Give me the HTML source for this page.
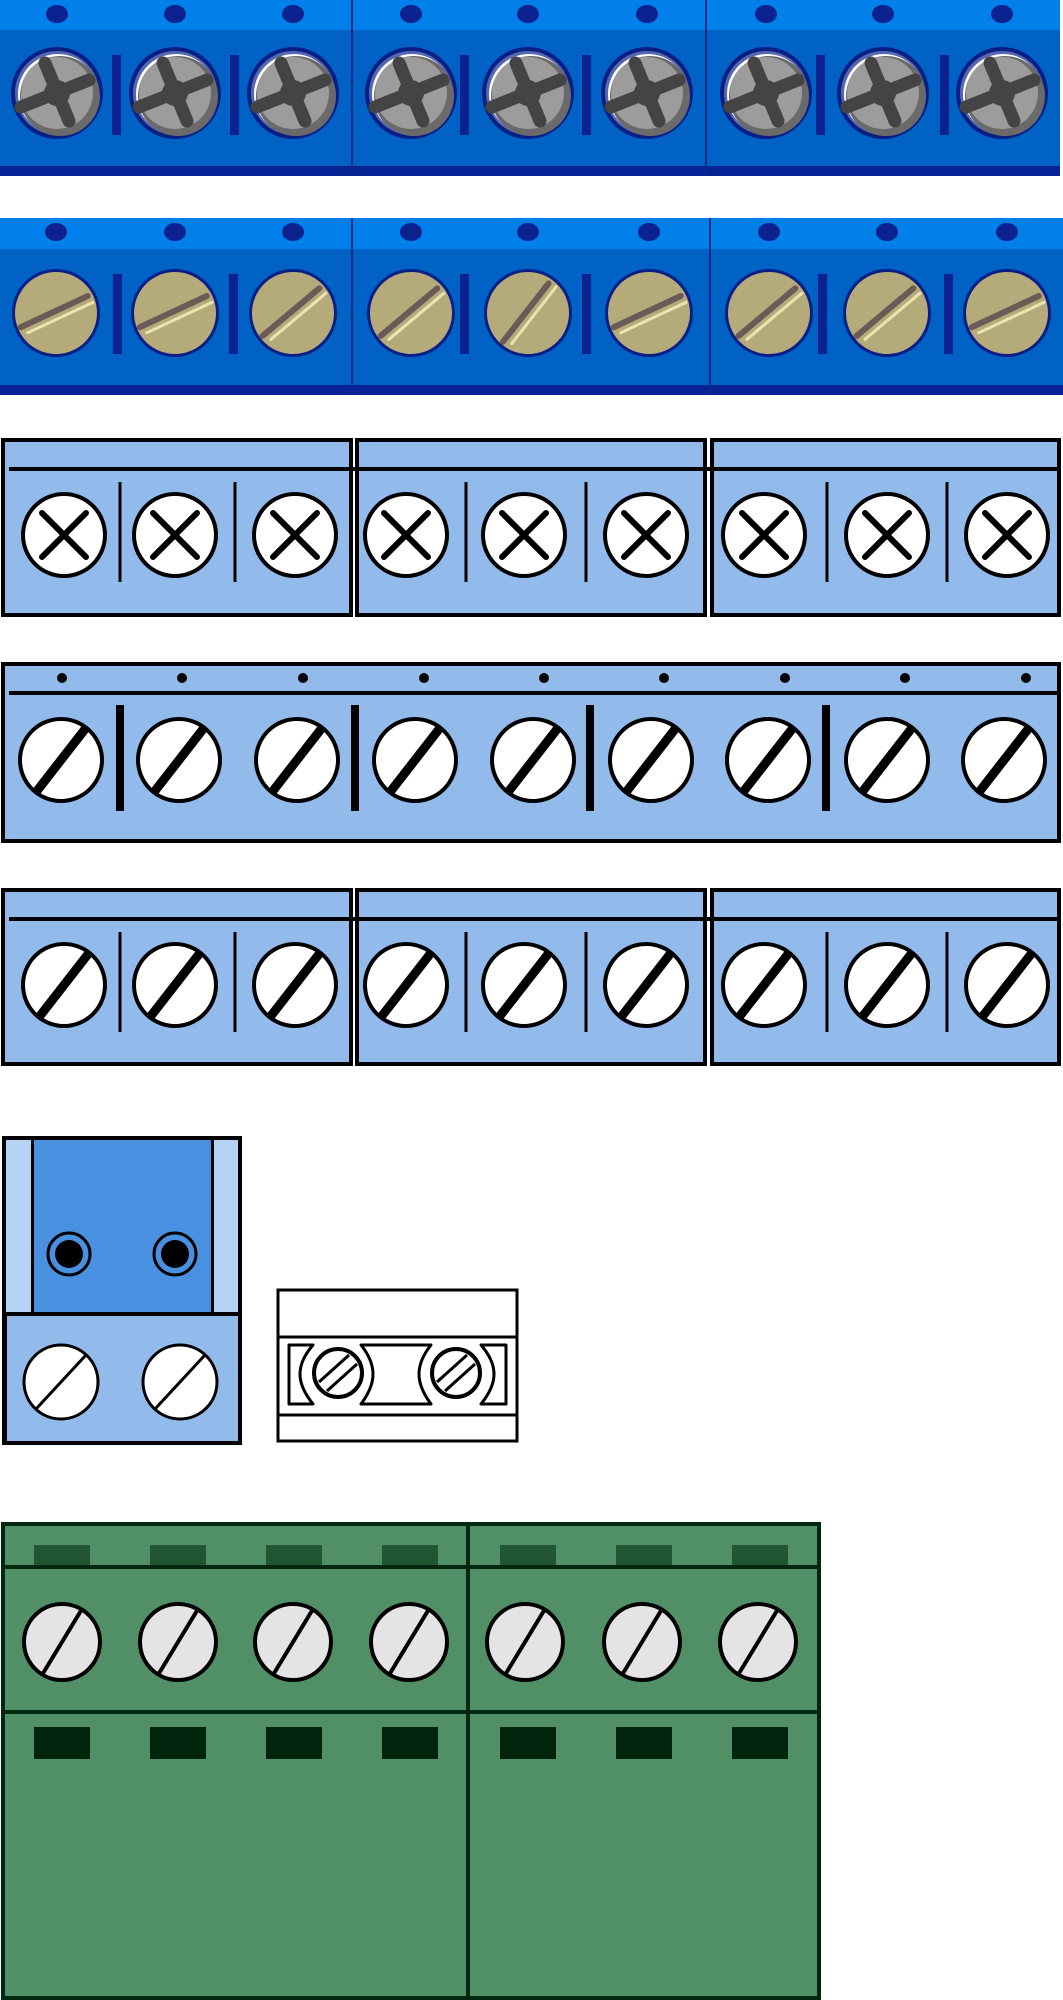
<!DOCTYPE html>
<html><head><meta charset="utf-8"><style>html,body{margin:0;padding:0;background:#fff}svg{display:block}</style></head>
<body>
<svg width="1063" height="2000" viewBox="0 0 1063 2000" xmlns="http://www.w3.org/2000/svg">
<defs>
 <g id="ph">
  <circle r="46" fill="#0a1f86"/>
  <circle r="42" fill="#5468b0"/>
  <circle r="40" cx="1" cy="1" fill="#fff"/>
  <circle r="40" cx="3" cy="3" fill="#6a6a6a"/>
  <circle r="36" cx="0" cy="0" fill="#9c9c9c"/>
  <g stroke="#444" stroke-width="13" stroke-linecap="round">
   <line x1="-36" y1="14" x2="32" y2="-13"/>
   <line x1="-12" y1="-30" x2="12" y2="28"/>
  </g>
  <circle r="13" fill="#444"/>
 </g>
 <g id="gd">
  <circle r="44" fill="#0a1f86"/>
  <circle r="41" fill="#b5aa7a"/>
  <line x1="-38" y1="-2" x2="36" y2="-2" stroke="#6b5a55" stroke-width="6" stroke-linecap="round"/>
  <line x1="-34" y1="6" x2="38" y2="6" stroke="#ece4b0" stroke-width="3" stroke-linecap="round"/>
 </g>
 <g id="xs">
  <circle r="41" fill="#fff" stroke="#000" stroke-width="4"/>
  <g stroke="#000" stroke-width="6" stroke-linecap="round">
   <line x1="-22" y1="-22" x2="22" y2="22"/><line x1="-22" y1="22" x2="22" y2="-22"/>
  </g>
 </g>
 <g id="ss">
  <clipPath id="cc"><circle r="41"/></clipPath>
  <circle r="41" fill="#fff" stroke="#000" stroke-width="4"/>
  <line x1="-28" y1="36" x2="28" y2="-36" stroke="#000" stroke-width="9" clip-path="url(#cc)"/>
 </g>
 <g id="gs">
  <circle r="38" fill="#e4e4e4" stroke="#000" stroke-width="4"/>
  <line x1="-20" y1="33" x2="20" y2="-33" stroke="#000" stroke-width="4"/>
 </g>
 <g id="ws">
  <circle r="37" fill="#fff" stroke="#000" stroke-width="3"/>
  <line x1="-25" y1="27" x2="25" y2="-27" stroke="#000" stroke-width="3"/>
 </g>
 <g id="ms">
  <circle r="24" fill="#fff" stroke="#000" stroke-width="4"/>
  <line x1="-19" y1="9" x2="11" y2="-18" stroke="#000" stroke-width="3"/>
  <line x1="-11" y1="18" x2="19" y2="-9" stroke="#000" stroke-width="3"/>
 </g>
</defs>

<!-- Row 1 -->
<rect x="0" y="0" width="1060" height="30" fill="#0080e8"/>
<rect x="0" y="30" width="1060" height="136" fill="#0062c4"/>
<rect x="0" y="166" width="1060" height="10" fill="#072396"/>
<rect x="351" y="0" width="2" height="176" fill="#0a2a8a"/>
<rect x="705" y="0" width="2" height="176" fill="#0a2a8a"/>
<g fill="#0b2290">
 <ellipse cx="57" cy="14" rx="11" ry="9"/><ellipse cx="175" cy="14" rx="11" ry="9"/><ellipse cx="293" cy="14" rx="11" ry="9"/>
 <ellipse cx="411" cy="14" rx="11" ry="9"/><ellipse cx="528" cy="14" rx="11" ry="9"/><ellipse cx="647" cy="14" rx="11" ry="9"/>
 <ellipse cx="766" cy="14" rx="11" ry="9"/><ellipse cx="883" cy="14" rx="11" ry="9"/><ellipse cx="1002" cy="14" rx="11" ry="9"/>
 <rect x="112" y="55" width="9" height="80"/><rect x="230" y="55" width="9" height="80"/>
 <rect x="460" y="55" width="9" height="80"/><rect x="582" y="55" width="9" height="80"/>
 <rect x="816" y="55" width="9" height="80"/><rect x="940" y="55" width="9" height="80"/>
</g>
<use href="#ph" x="57" y="93"/><use href="#ph" x="175" y="93"/><use href="#ph" x="293" y="93"/>
<use href="#ph" x="411" y="93"/><use href="#ph" x="528" y="93"/><use href="#ph" x="647" y="93"/>
<use href="#ph" x="766" y="93"/><use href="#ph" x="883" y="93"/><use href="#ph" x="1002" y="93"/>

<!-- Row 2 -->
<rect x="0" y="218" width="1063" height="31" fill="#0080e8"/>
<rect x="0" y="249" width="1063" height="136" fill="#0062c4"/>
<rect x="0" y="385" width="1063" height="10" fill="#072396"/>
<rect x="351" y="218" width="2" height="177" fill="#0a2a8a"/>
<rect x="709" y="218" width="2" height="177" fill="#0a2a8a"/>
<g fill="#0b2290">
 <ellipse cx="56" cy="232" rx="11" ry="9"/><ellipse cx="175" cy="232" rx="11" ry="9"/><ellipse cx="293" cy="232" rx="11" ry="9"/>
 <ellipse cx="411" cy="232" rx="11" ry="9"/><ellipse cx="528" cy="232" rx="11" ry="9"/><ellipse cx="649" cy="232" rx="11" ry="9"/>
 <ellipse cx="769" cy="232" rx="11" ry="9"/><ellipse cx="887" cy="232" rx="11" ry="9"/><ellipse cx="1007" cy="232" rx="11" ry="9"/>
 <rect x="113" y="274" width="9" height="80"/><rect x="229" y="274" width="9" height="80"/>
 <rect x="460" y="274" width="9" height="80"/><rect x="582" y="274" width="9" height="80"/>
 <rect x="818" y="274" width="9" height="80"/><rect x="944" y="274" width="9" height="80"/>
</g>
<use href="#gd" transform="translate(56,313) rotate(-25)"/>
<use href="#gd" transform="translate(175,313) rotate(-25)"/>
<use href="#gd" transform="translate(293,313) rotate(-40)"/>
<use href="#gd" transform="translate(411,313) rotate(-40)"/>
<use href="#gd" transform="translate(528,313) rotate(-52)"/>
<use href="#gd" transform="translate(649,313) rotate(-25)"/>
<use href="#gd" transform="translate(769,313) rotate(-40)"/>
<use href="#gd" transform="translate(887,313) rotate(-40)"/>
<use href="#gd" transform="translate(1007,313) rotate(-25)"/>

<!-- Row 3 -->
<g fill="#92bbec" stroke="#000" stroke-width="4">
 <rect x="3" y="440" width="348" height="175"/>
 <rect x="357" y="440" width="348" height="175"/>
 <rect x="712" y="440" width="347" height="175"/>
</g>
<line x1="9" y1="469" x2="1057" y2="469" stroke="#000" stroke-width="4"/>
<g stroke="#000" stroke-width="3">
 <line x1="120" y1="482" x2="120" y2="582"/><line x1="235" y1="482" x2="235" y2="582"/>
 <line x1="466" y1="482" x2="466" y2="582"/><line x1="586" y1="482" x2="586" y2="582"/>
 <line x1="827" y1="482" x2="827" y2="582"/><line x1="947" y1="482" x2="947" y2="582"/>
</g>
<use href="#xs" x="64" y="535"/><use href="#xs" x="175" y="535"/><use href="#xs" x="295" y="535"/>
<use href="#xs" x="406" y="535"/><use href="#xs" x="524" y="535"/><use href="#xs" x="646" y="535"/>
<use href="#xs" x="764" y="535"/><use href="#xs" x="887" y="535"/><use href="#xs" x="1007" y="535"/>

<!-- Row 4 -->
<rect x="3" y="664" width="1056" height="177" fill="#92bbec" stroke="#000" stroke-width="4"/>
<line x1="9" y1="693" x2="1057" y2="693" stroke="#000" stroke-width="4"/>
<g fill="#000">
 <circle cx="62" cy="678" r="5"/><circle cx="182" cy="678" r="5"/><circle cx="303" cy="678" r="5"/>
 <circle cx="424" cy="678" r="5"/><circle cx="544" cy="678" r="5"/><circle cx="664" cy="678" r="5"/>
 <circle cx="785" cy="678" r="5"/><circle cx="905" cy="678" r="5"/><circle cx="1026" cy="678" r="5"/>
 <rect x="116" y="705" width="8" height="106"/><rect x="351" y="705" width="8" height="106"/>
 <rect x="586" y="705" width="8" height="106"/><rect x="822" y="705" width="8" height="106"/>
</g>
<use href="#ss" x="61" y="760"/><use href="#ss" x="179" y="760"/><use href="#ss" x="297" y="760"/>
<use href="#ss" x="415" y="760"/><use href="#ss" x="533" y="760"/><use href="#ss" x="651" y="760"/>
<use href="#ss" x="768" y="760"/><use href="#ss" x="887" y="760"/><use href="#ss" x="1004" y="760"/>

<!-- Row 5 -->
<g fill="#92bbec" stroke="#000" stroke-width="4">
 <rect x="3" y="890" width="348" height="174"/>
 <rect x="357" y="890" width="348" height="174"/>
 <rect x="712" y="890" width="347" height="174"/>
</g>
<line x1="9" y1="919" x2="1057" y2="919" stroke="#000" stroke-width="4"/>
<g stroke="#000" stroke-width="3">
 <line x1="120" y1="932" x2="120" y2="1032"/><line x1="235" y1="932" x2="235" y2="1032"/>
 <line x1="466" y1="932" x2="466" y2="1032"/><line x1="586" y1="932" x2="586" y2="1032"/>
 <line x1="827" y1="932" x2="827" y2="1032"/><line x1="947" y1="932" x2="947" y2="1032"/>
</g>
<use href="#ss" x="64" y="985"/><use href="#ss" x="175" y="985"/><use href="#ss" x="295" y="985"/>
<use href="#ss" x="406" y="985"/><use href="#ss" x="524" y="985"/><use href="#ss" x="646" y="985"/>
<use href="#ss" x="764" y="985"/><use href="#ss" x="887" y="985"/><use href="#ss" x="1007" y="985"/>

<!-- Row 6: blue block -->
<rect x="2" y="1136" width="240" height="309" fill="#000"/>
<rect x="6" y="1140" width="25" height="172" fill="#b6d3f3"/>
<rect x="34" y="1140" width="177" height="172" fill="#4a90e0"/>
<rect x="214" y="1140" width="24" height="172" fill="#b6d3f3"/>
<rect x="7" y="1316" width="231" height="125" fill="#92bbec"/>
<circle cx="69" cy="1254" r="21" fill="#4a90e0" stroke="#000" stroke-width="3"/>
<circle cx="69" cy="1254" r="14" fill="#000"/>
<circle cx="175" cy="1254" r="21" fill="#4a90e0" stroke="#000" stroke-width="3"/>
<circle cx="175" cy="1254" r="14" fill="#000"/>
<use href="#ws" x="61" y="1382"/><use href="#ws" x="180" y="1382"/>

<!-- White block -->
<rect x="278" y="1290" width="239" height="151" fill="#fff" stroke="#000" stroke-width="3"/>
<line x1="278" y1="1337" x2="517" y2="1337" stroke="#000" stroke-width="3"/>
<line x1="278" y1="1415" x2="517" y2="1415" stroke="#000" stroke-width="3"/>
<g fill="#fff" stroke="#000" stroke-width="3" stroke-linejoin="round">
 <path d="M289,1345 H313 Q300,1360 300,1374 Q300,1388 313,1404 H289 Z"/>
 <path d="M361,1345 H431 Q419,1360 419,1374 Q419,1388 431,1404 H361 Q373,1388 373,1374 Q373,1360 361,1345 Z"/>
 <path d="M506,1345 H481 Q494,1360 494,1374 Q494,1388 481,1404 H506 Z"/>
</g>
<use href="#ms" x="338" y="1373"/><use href="#ms" x="456" y="1373"/>

<!-- Green -->
<rect x="3" y="1524" width="816" height="474" fill="#519067" stroke="#002810" stroke-width="4"/>
<line x1="3" y1="1567" x2="819" y2="1567" stroke="#002810" stroke-width="4"/>
<line x1="3" y1="1712" x2="819" y2="1712" stroke="#002810" stroke-width="4"/>
<line x1="468" y1="1524" x2="468" y2="1998" stroke="#002810" stroke-width="4"/>
<g fill="#215533">
 <rect x="34" y="1545" width="56" height="20"/><rect x="150" y="1545" width="56" height="20"/>
 <rect x="266" y="1545" width="56" height="20"/><rect x="382" y="1545" width="56" height="20"/>
 <rect x="500" y="1545" width="56" height="20"/><rect x="616" y="1545" width="56" height="20"/>
 <rect x="732" y="1545" width="56" height="20"/>
</g>
<g fill="#00250d">
 <rect x="34" y="1727" width="56" height="32"/><rect x="150" y="1727" width="56" height="32"/>
 <rect x="266" y="1727" width="56" height="32"/><rect x="382" y="1727" width="56" height="32"/>
 <rect x="500" y="1727" width="56" height="32"/><rect x="616" y="1727" width="56" height="32"/>
 <rect x="732" y="1727" width="56" height="32"/>
</g>
<use href="#gs" x="62" y="1642"/><use href="#gs" x="178" y="1642"/><use href="#gs" x="293" y="1642"/>
<use href="#gs" x="409" y="1642"/><use href="#gs" x="525" y="1642"/><use href="#gs" x="642" y="1642"/>
<use href="#gs" x="758" y="1642"/>
</svg>
</body></html>
